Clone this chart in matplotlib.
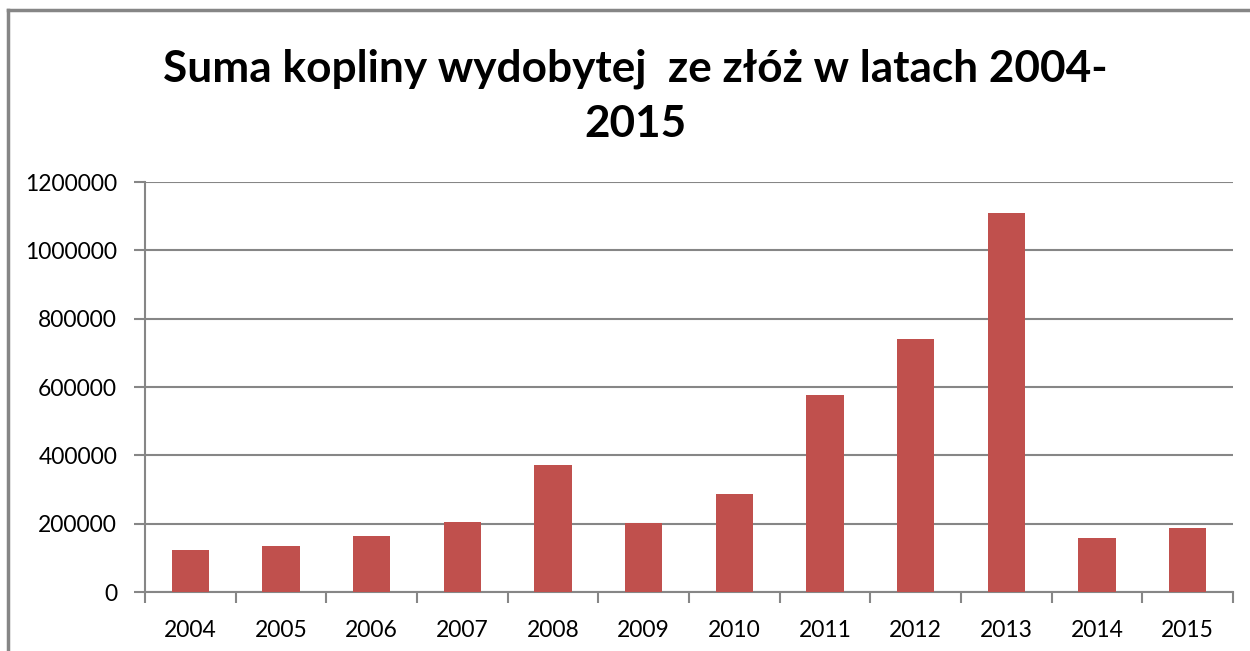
import matplotlib.pyplot as plt
from matplotlib.lines import Line2D

# Dane
lata = ['2004', '2005', '2006', '2007', '2008', '2009',
        '2010', '2011', '2012', '2013', '2014', '2015']
suma_kopliny = [122000, 135000, 164000, 206000, 373000, 203000,
                287000, 578000, 740000, 1110000, 159000, 187000]
y_ticks = [0, 200000, 400000, 600000, 800000, 1000000, 1200000]

plt.rcParams['font.family'] = ['Lato', 'DejaVu Sans']

fig = plt.figure(figsize=(12.5, 6.51), dpi=100)
ax = fig.add_axes([0.116, 0.0906, 0.8704, 0.6298])

x = range(len(lata))
ax.bar(x, suma_kopliny, width=0.41, color='#C0504D', zorder=3)

ax.set_xlim(-0.5, len(lata) - 0.5)
ax.set_ylim(0, 1200000)
ax.set_yticks(y_ticks)
ax.set_yticklabels([str(v) for v in y_ticks], fontsize=16.5)
ax.set_xticks(x)
ax.set_xticklabels(lata, fontsize=16.5)

# Siatka i osie w stylu Excela
ax.grid(axis='y', color='#868686', linewidth=1.5, zorder=0)
for side in ['top', 'right']:
    ax.spines[side].set_visible(False)
for side in ['left', 'bottom']:
    ax.spines[side].set_color('#868686')
    ax.spines[side].set_linewidth(1.5)

ax.tick_params(axis='y', length=8, width=1.5, color='#868686', pad=12)
ax.tick_params(axis='x', length=0, pad=20)
# kreski podziałki między kategoriami
ax.set_xticks([i - 0.5 for i in range(len(lata) + 1)], minor=True)
ax.tick_params(axis='x', which='minor', length=8, width=1.5, color='#868686')

fig.text(0.508, 0.895, 'Suma kopliny wydobytej  ze złóż w latach 2004-',
         ha='center', va='center', fontsize=31.8, fontweight='bold')
fig.text(0.508, 0.81, '2015', ha='center', va='center',
         fontsize=31.8, fontweight='bold')

# Ramka obszaru wykresu
fig.add_artist(Line2D([0.0064, 1.0], [0.9846, 0.9846], color='#868686', linewidth=2.5))
fig.add_artist(Line2D([0.0064, 0.0064], [0.0, 0.9846], color='#868686', linewidth=2.5))

plt.savefig('out.png', dpi=100)
plt.close()
